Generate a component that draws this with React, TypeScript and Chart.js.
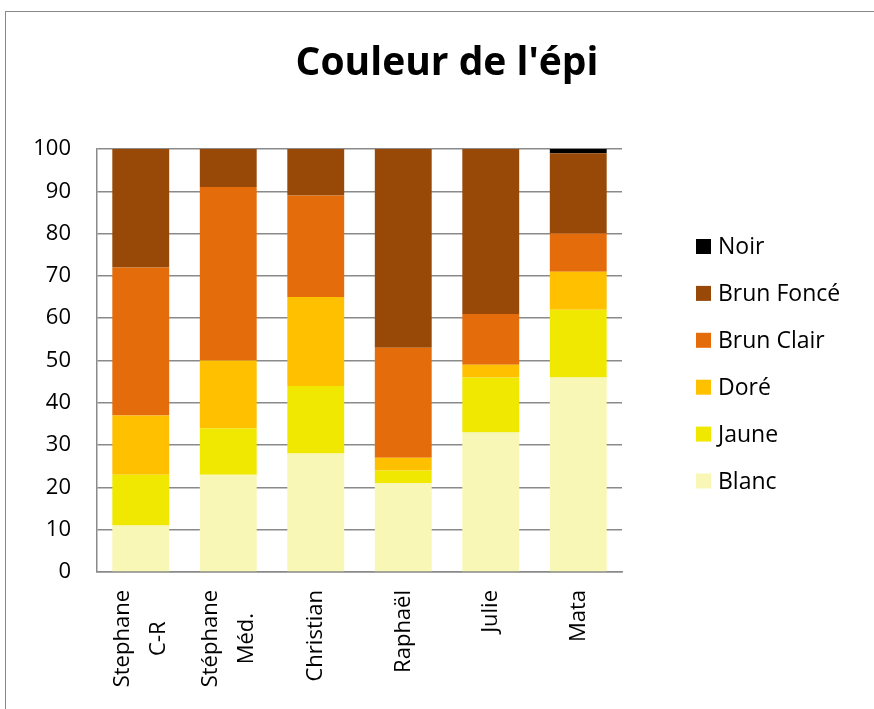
import React, { useEffect, useRef } from "react";
import { Chart, registerables } from "chart.js";

Chart.register(...registerables);

const titleText = "Couleur de l'épi";
const categories: (string | string[])[] = [
  ["Stephane", "C-R"],
  ["Stéphane", "Méd."],
  "Christian",
  "Raphaël",
  "Julie",
  "Mata",
];
const seriesNames = ["Blanc", "Jaune", "Doré", "Brun Clair", "Brun Foncé", "Noir"];
const blanc = [11, 23, 28, 21, 33, 46];
const jaune = [12, 11, 16, 3, 13, 16];
const dore = [14, 16, 21, 3, 3, 9];
const brunClair = [35, 41, 24, 26, 12, 9];
const brunFonce = [28, 9, 11, 47, 39, 19];
const noir = [0, 0, 0, 0, 0, 1];
const seriesColors = ["#F8F7B5", "#F0E800", "#FFC000", "#E46C0A", "#984807", "#000000"];

const FONT = "'Open Sans', 'DejaVu Sans', sans-serif";

const overlayPlugin = {
  id: "overlay",
  afterDraw(chart: any) {
    const ctx = chart.ctx as CanvasRenderingContext2D;
    const area = chart.chartArea;
    ctx.save();
    // title
    ctx.fillStyle = "#000";
    ctx.font = `bold 39px ${FONT}`;
    ctx.textAlign = "center";
    ctx.textBaseline = "alphabetic";
    ctx.fillText(titleText, 447, 75);

    // x category labels (rotated, lines centered within their block)
    const xs = chart.scales.x;
    ctx.font = `22px ${FONT}`;
    const labels = chart.data.labels as (string | string[])[];
    labels.forEach((lab, i) => {
      const lines = Array.isArray(lab) ? lab : [lab];
      const widths = lines.map((l) => ctx.measureText(l).width);
      const maxW = Math.max(...widths);
      const cx = xs.getPixelForValue(i);
      const cyText = area.bottom + 18 + maxW / 2;
      lines.forEach((l, j) => {
        const lx = cx + (j - (lines.length - 1) / 2) * 36;
        ctx.save();
        ctx.translate(lx, cyText);
        ctx.rotate(-Math.PI / 2);
        ctx.textAlign = "center";
        ctx.textBaseline = "middle";
        ctx.fillStyle = "#000";
        ctx.fillText(l, 0, 0);
        ctx.restore();
      });
    });

    // legend
    const ds = chart.data.datasets;
    ctx.font = `23px ${FONT}`;
    ctx.textAlign = "left";
    ctx.textBaseline = "middle";
    const bx = area.right + 74;
    for (let i = 0; i < ds.length; i++) {
      const d = ds[ds.length - 1 - i];
      const cy = 246.5 + i * 46.9;
      ctx.fillStyle = d.backgroundColor;
      ctx.fillRect(bx, cy - 7.5, 15, 15);
      ctx.fillStyle = "#000";
      ctx.fillText(d.label, bx + 22, cy + 1);
    }
    ctx.restore();
  },
};

export default function App() {
  const ref = useRef<HTMLCanvasElement | null>(null);
  useEffect(() => {
    if (!ref.current) return;
    const values = [blanc, jaune, dore, brunClair, brunFonce, noir];
    const chart = new Chart(ref.current, {
      type: "bar",
      data: {
        labels: categories,
        datasets: seriesNames.map((name, i) => ({
          label: name,
          data: values[i],
          backgroundColor: seriesColors[i],
          borderWidth: 0,
          barPercentage: 0.65,
          categoryPercentage: 1,
        })),
      },
      options: {
        responsive: false,
        animation: false,
        layout: { padding: { left: 0, top: 149, right: 252, bottom: 0 } },
        plugins: {
          legend: { display: false },
          title: { display: false },
          tooltip: { enabled: false },
        },
        scales: {
          x: {
            stacked: true,
            grid: { display: false, drawTicks: false },
            border: { display: true, color: "#8a8a8a", width: 1.5 },
            ticks: { display: false },
            afterFit: (s: any) => {
              s.height = 709 - 572;
            },
          },
          y: {
            stacked: true,
            min: 0,
            max: 100,
            ticks: {
              stepSize: 10,
              padding: 26,
              color: "#000",
              font: { family: FONT, size: 22 },
            },
            grid: { color: "#8a8a8a", lineWidth: 1.5, drawTicks: false },
            border: { display: true, color: "#8a8a8a", width: 1.5 },
            afterFit: (s: any) => {
              s.width = 97;
            },
          },
        },
      },
      plugins: [overlayPlugin],
    });
    return () => chart.destroy();
  }, []);

  return (
    <div style={{ position: "fixed", inset: 0, overflow: "hidden", background: "#fff" }}>
      <div
        style={{
          position: "absolute",
          left: 5,
          top: 11,
          width: 1200,
          height: 1200,
          border: "1px solid #888",
        }}
      />
      <canvas
        ref={ref}
        width={874}
        height={709}
        style={{ position: "absolute", left: 0, top: 0, width: 874, height: 709 }}
      />
    </div>
  );
}
